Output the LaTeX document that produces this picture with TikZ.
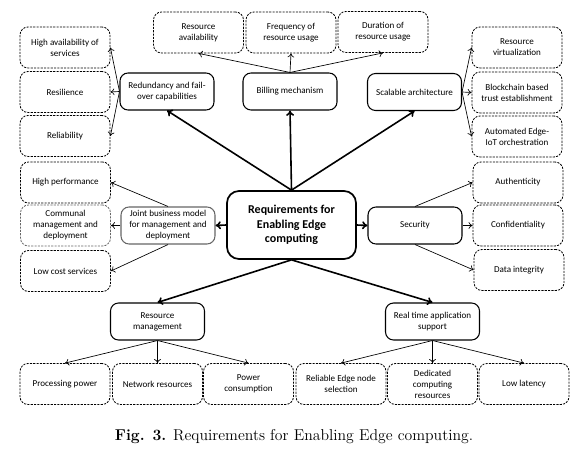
\documentclass[tikz,border=0pt]{standalone}
\usepackage{fontspec}
\newfontfamily\boxfont{Carlito}
\usepackage{tikz}
\usetikzlibrary{arrows.meta}
\tikzset{every picture/.style={line width=0.75pt}}
\tikzset{
  subbox/.style={draw, rounded corners=6pt, dash pattern=on 1.6pt off 0.9pt, line width=0.6pt,
    minimum width=67.5pt, minimum height=30.75pt, align=center, inner sep=1pt,
    font=\boxfont\fontsize{6.8}{8.2}\selectfont},
  mainbox/.style={draw, rounded corners=6pt, line width=0.8pt,
    minimum width=70.5pt, minimum height=27.75pt, align=center, inner sep=1pt,
    font=\boxfont\fontsize{6.8}{8.2}\selectfont},
  rootbox/.style={draw, rounded corners=9pt, line width=1.3pt,
    minimum width=96.75pt, minimum height=51pt, align=center, inner sep=1pt,
    font=\boxfont\bfseries\fontsize{9}{11}\selectfont},
  thickarrow/.style={-{To[length=4pt,width=6pt]}, line width=1.2pt},
  thinarrow/.style={-{To[length=3pt,width=5pt]}, line width=0.5pt},
}

\begin{document}
\begin{tikzpicture}[x=0.75pt,y=0.75pt,yscale=-1,xscale=1]
\useasboundingbox (0,0) rectangle (580,463);

% Root
\node [rootbox] (req) at (291.5,225) {Requirements for\\Enabling Edge\\computing};

% Main requirements
\node [mainbox] (redundancy) at (167,91.5) {Redundancy and fail-\\over capabilities};
\node [mainbox] (billing) at (290,91.5) {Billing mechanism};
\node [mainbox] (scalable) at (414.5,92) {Scalable architecture};
\node [mainbox, draw=black!60] (joint) at (168,225.5) {Joint business model\\for management and\\deployment};
\node [mainbox] (security) at (415,225.5) {Security};
\node [mainbox] (resmgmt) at (157.5,321.5) {Resource\\management};
\node [mainbox] (realtime) at (432.5,321.5) {Real time application\\support};

% Billing mechanism
\node [subbox] (res_avail) at (198.5,32.5) {Resource\\availability};
\node [subbox] (freq_usage) at (291,32.5) {Frequency of\\resource usage};
\node [subbox] (dur_usage) at (383,32) {Duration of\\resource usage};

% Redundancy
\node [subbox] (high_avail) at (65,47.5) {High availability of\\services};
\node [subbox] (resilience) at (65,92) {Resilience};
\node [subbox] (reliability) at (65,136) {Reliability};

% Scalable architecture
\node [subbox] (res_virt) at (517,47.5) {Resource\\virtualization};
\node [subbox] (blockchain) at (517,92.5) {Blockchain based\\trust establishment};
\node [subbox] (automated) at (517,136.5) {Automated Edge-\\IoT orchestration};

% Joint business model
\node [subbox] (high_perf) at (65.5,182.5) {High performance};
\node [subbox, draw=black!60] (communal) at (65.5,225.5) {Communal\\management and\\deployment};
\node [subbox] (low_cost) at (65.5,271) {Low cost services};

% Security
\node [subbox] (authenticity) at (518,182.5) {Authenticity};
\node [subbox] (confidentiality) at (518,225.5) {Confidentiality};
\node [subbox] (integrity) at (519,270) {Data integrity};

% Resource management / Real time
\node [subbox] (processing) at (65,384) {Processing power};
\node [subbox] (network) at (157.5,384) {Network resources};
\node [subbox] (power) at (248.5,384) {Power\\consumption};
\node [subbox] (reliable_sel) at (341,384) {Reliable Edge node\\selection};
\node [subbox] (dedicated) at (432.5,384) {Dedicated\\computing\\resources};
\node [subbox] (latency) at (524,384) {Low latency};

% Caption
\node [font=\fontsize{11.8}{14}\selectfont] (caption) at (294,437) {\textbf{Fig. 3.} Requirements for Enabling Edge computing.};

% Thick connectors
\draw [thickarrow] (req.north) -- (billing.south);
\draw [thickarrow] (req.north) -- (redundancy.south);
\draw [thickarrow] (req.north) -- (scalable.south);
\draw [thickarrow] (req.west) -- (joint.east);
\draw [thickarrow] (req.east) -- (security.west);
\draw [thickarrow] (req.south) -- (resmgmt.north);
\draw [thickarrow] (req.south) -- (realtime.north);

% Thin connectors
\foreach \t in {res_avail,freq_usage,dur_usage}
  \draw [thinarrow] (billing.north) -- (\t.south);
\foreach \t in {high_avail,resilience,reliability}
  \draw [thinarrow] (redundancy.west) -- (\t.east);
\foreach \t in {res_virt,blockchain,automated}
  \draw [thinarrow] (scalable.east) -- (\t.west);
\draw [thinarrow] (joint.north) -- (high_perf.east);
\draw [thinarrow] (joint.west) -- (communal.east);
\draw [thinarrow] (joint.south) -- (low_cost.east);
\draw [thinarrow] (security.north) -- (authenticity.west);
\draw [thinarrow] (security.east) -- (confidentiality.west);
\draw [thinarrow] (security.south) -- (integrity.west);
\foreach \t in {processing,network,power}
  \draw [thinarrow] (resmgmt.south) -- (\t.north);
\foreach \t in {reliable_sel,dedicated,latency}
  \draw [thinarrow] (realtime.south) -- (\t.north);

\end{tikzpicture}
\end{document}
